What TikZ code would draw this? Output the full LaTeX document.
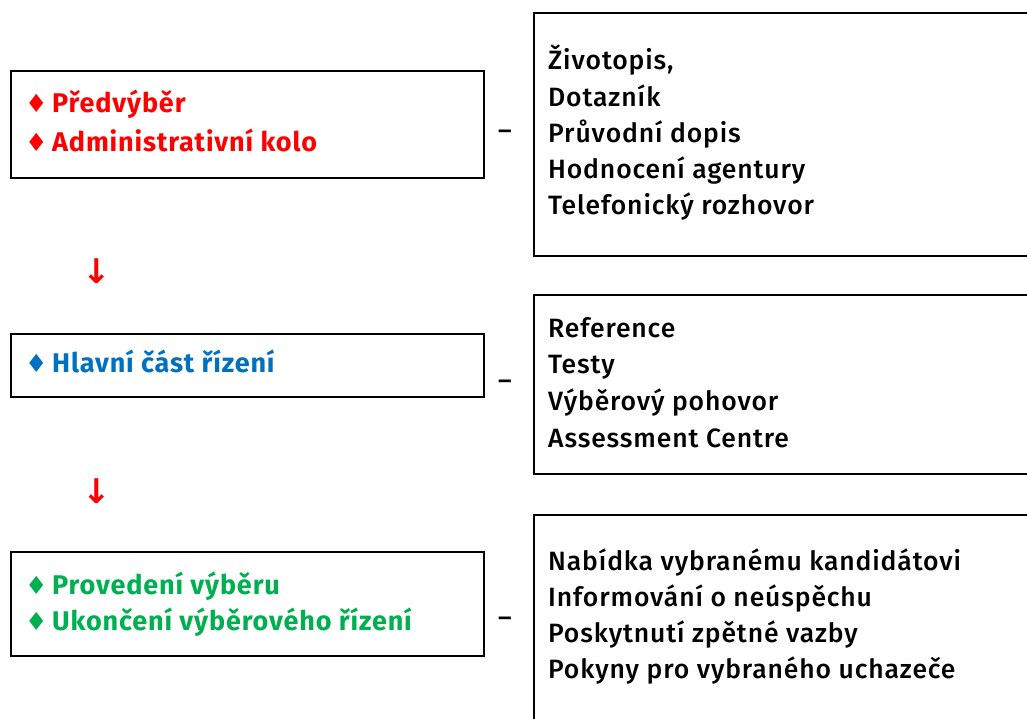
\documentclass[tikz,border=0pt]{standalone}
\usepackage{fontspec}
\setmainfont{Fira Sans}[UprightFont=* Medium, BoldFont=* Bold]
\newfontfamily\symfont{DejaVu Sans}
\definecolor{cred}{HTML}{FF0000}
\definecolor{cblue}{HTML}{0070C0}
\definecolor{cgreen}{HTML}{00B050}
\begin{document}
\begin{tikzpicture}[x=1pt,y=-1pt,
  box/.style={draw=black,line width=2pt},
  lefttxt/.style={anchor=base west,inner sep=0pt,font=\fontsize{27}{32}\selectfont\bfseries\addfontfeature{LetterSpace=3.2}},
  righttxt/.style={anchor=base west,inner sep=0pt,font=\fontsize{26.5}{30}\selectfont\addfontfeature{LetterSpace=3.3}},
  dashtxt/.style={inner sep=0pt,font=\fontsize{26}{30}\selectfont},
  arr/.style={inner sep=0pt,text=cred,font=\fontsize{34}{38}\symfont\bfseries}]
\useasboundingbox (0,0) rectangle (1027,718);
\clip (0,0) rectangle (1027,718);
% left boxes
\draw[box] (11,71) rectangle (484,178);
\draw[box] (11,334) rectangle (484,397);
\draw[box] (11,552) rectangle (484,656);
% right boxes
\draw[box] (534,13) rectangle (1040,256);
\draw[box] (534,295) rectangle (1040,474);
\draw[box] (534,515) rectangle (1040,740);
% left texts
\newcommand{\dm}{\makebox[27pt][l]{\symfont\fontsize{25}{28}\selectfont\char"2666}}
\node[lefttxt,text=cred] (l1a) at (25,112) {\dm Předvýběr};
\node[lefttxt,text=cred] (l1b) at (25,151) {\dm Administrativní kolo};
\node[lefttxt,text=cblue] (l2a) at (25,372) {\dm Hlavní část řízení};
\node[lefttxt,text=cgreen] (l3a) at (25,594) {\dm Provedení výběru};
\node[lefttxt,text=cgreen] (l3b) at (25,630) {\dm Ukončení výběrového řízení};
% right texts
\node[righttxt] (r1a) at (548,69) {Životopis,};
\node[righttxt] (r1b) at (548,106) {Dotazník};
\node[righttxt] (r1c) at (548,142) {Průvodní dopis};
\node[righttxt] (r1d) at (548,178) {Hodnocení agentury};
\node[righttxt] (r1e) at (548,214) {Telefonický rozhovor};
\node[righttxt] (r2a) at (548,337) {Reference};
\node[righttxt] (r2b) at (548,373) {Testy};
\node[righttxt] (r2c) at (548,410) {Výběrový pohovor};
\node[righttxt] (r2d) at (548,447) {Assessment Centre};
\node[righttxt] (r3a) at (548,570) {Nabídka vybranému kandidátovi};
\node[righttxt] (r3b) at (548,606) {Informování o neúspěchu};
\node[righttxt] (r3c) at (548,642) {Poskytnutí zpětné vazby};
\node[righttxt] (r3d) at (548,678) {Pokyny pro vybraného uchazeče};
% dashes
\node[dashtxt] (d1) at (505,135) {–};
\node[dashtxt] (d2) at (505,385) {–};
\node[dashtxt] (d3) at (505,622) {–};
% arrows
\node[arr] (a1) at (97,271) {↓};
\node[arr] (a2) at (97,491) {↓};
\end{tikzpicture}
\end{document}
